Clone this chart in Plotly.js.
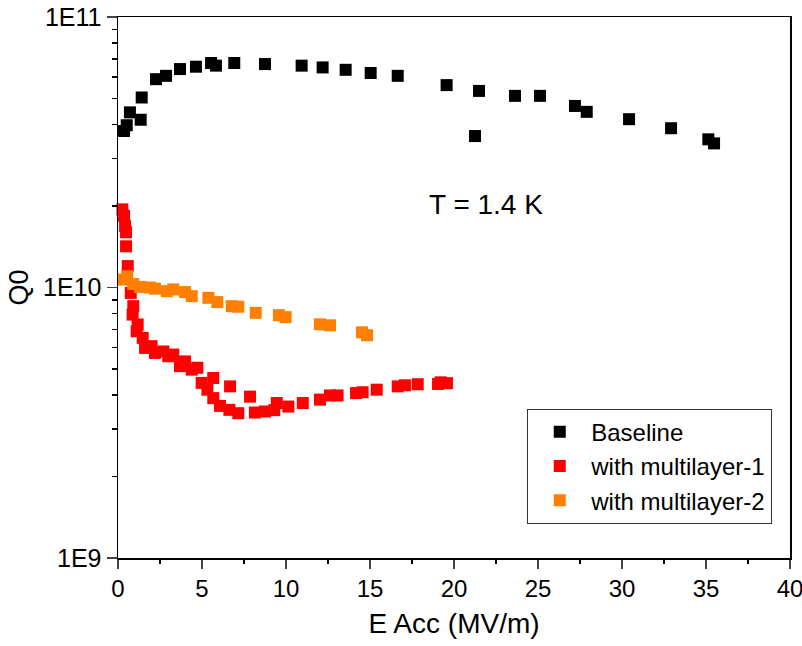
<!DOCTYPE html>
<html>
<head>
<meta charset="utf-8">
<script src="https://cdn.plot.ly/plotly-3.0.1.min.js"></script>
<style>html,body{margin:0;padding:0;background:#fff;}#chart{width:802px;height:646px;}</style>
</head>
<body>
<div id="chart"></div>
<script>
// Baseline
const baseX = [0.36,0.52,0.71,1.35,1.41,2.26,2.86,3.69,4.64,5.54,5.83,6.92,8.75,10.93,12.18,13.55,15.04,16.65,19.56,21.25,21.49,23.63,25.12,27.2,27.9,30.42,32.92,35.14,35.48];
const baseY = [3.79e10,3.98e10,4.44e10,4.17e10,5.04e10,5.89e10,6.06e10,6.42e10,6.55e10,6.76e10,6.61e10,6.76e10,6.70e10,6.61e10,6.51e10,6.38e10,6.21e10,6.06e10,5.60e10,3.63e10,5.33e10,5.11e10,5.11e10,4.69e10,4.46e10,4.19e10,3.88e10,3.53e10,3.41e10];
// with multilayer-1
const ml1X = [0.26,0.36,0.42,0.48,0.48,0.58,0.76,0.91,0.87,1.17,1.11,1.47,1.61,2.0,2.2,2.7,2.99,3.29,3.69,3.99,4.39,4.72,4.98,5.32,5.67,5.67,6.07,6.67,6.63,7.16,7.86,8.15,8.75,9.3,9.45,10.14,11.0,12.02,12.62,13.07,14.17,14.56,15.4,16.65,17.08,17.84,19.05,19.2,19.58];
const ml1Y = [1.945e10,1.84e10,1.69e10,1.60e10,1.42e10,1.20e10,9.55e9,8.53e9,7.94e9,7.30e9,6.89e9,6.51e9,5.98e9,6.07e9,5.73e9,5.80e9,5.57e9,5.65e9,5.12e9,5.33e9,4.97e9,5.05e9,4.44e9,4.19e9,4.63e9,3.90e9,3.65e9,4.31e9,3.53e9,3.43e9,3.95e9,3.45e9,3.48e9,3.52e9,3.74e9,3.63e9,3.74e9,3.85e9,3.99e9,3.99e9,4.07e9,4.10e9,4.19e9,4.31e9,4.35e9,4.39e9,4.40e9,4.46e9,4.43e9];
// with multilayer-2
const ml2X = [0.32,0.55,0.91,1.31,1.9,2.2,2.9,3.29,3.99,4.39,5.38,5.91,6.77,7.16,8.2,9.58,9.98,12.02,12.62,14.52,14.82];
const ml2Y = [1.07e10,1.10e10,1.03e10,1.005e10,1.0e10,9.9e9,9.69e9,9.84e9,9.62e9,9.29e9,9.16e9,8.83e9,8.53e9,8.49e9,8.06e9,7.90e9,7.77e9,7.31e9,7.25e9,6.83e9,6.66e9];

const seriesNames = ['Baseline','with multilayer-1','with multilayer-2'];
const yTickVals = [1e9,1e10,1e11];
const yTickText = ['1E9','1E10','1E11'];
const xTickVals = [0,5,10,15,20,25,30,35,40];
const xTickText = ['0','5','10','15','20','25','30','35','40'];

const font = 'Arial';
function mk(x,y,name,color){
  return {x:x,y:y,name:name,type:'scatter',mode:'markers',
    marker:{symbol:'square',size:12,color:color,line:{width:0}},cliponaxis:false};
}
const minorY = [];
[1e9,1e10].forEach(d=>{for(let k=2;k<=9;k++) minorY.push(k*d);});

const data = [
  mk(baseX,baseY,seriesNames[0],'#000000'),
  mk(ml1X,ml1Y,seriesNames[1],'#ff0000'),
  mk(ml2X,ml2Y,seriesNames[2],'#ff8000')
];
const layout = {
  width:802,height:646,
  margin:{l:118,r:12,t:17,b:88},
  paper_bgcolor:'#fff',plot_bgcolor:'#fff',
  font:{family:font,color:'#000',size:24},
  showlegend:true,
  legend:{x:0.609,y:0.276,xanchor:'left',yanchor:'top',bordercolor:'#333',borderwidth:1,
    font:{family:font,size:24,color:'#000'},bgcolor:'#fff',itemwidth:53,tracegroupgap:0},
  xaxis:{range:[0,40],tickmode:'array',tickvals:xTickVals,ticktext:xTickText,ticks:'outside',ticklen:9,tickwidth:1.5,
    ticklabeloverflow:'allow',
    showline:true,linecolor:'#000',linewidth:1.5,mirror:true,showgrid:false,zeroline:false,
    tickfont:{family:font,size:24,color:'#000'},
    minor:{dtick:2.5,tick0:0,ticks:'outside',ticklen:4,tickwidth:1.5,tickcolor:'#000',showgrid:false},
    title:{text:'E Acc (MV/m)',font:{family:font,size:28,color:'#000'},standoff:12}},
  yaxis:{type:'log',range:[9,11],tickmode:'array',tickvals:yTickVals,ticktext:yTickText,ticks:'outside',ticklen:10,tickwidth:1.5,
    ticklabeloverflow:'allow',
    showline:true,linecolor:'#000',linewidth:1.5,mirror:true,showgrid:false,zeroline:false,
    tickfont:{family:font,size:25,color:'#000'},
    minor:{tickmode:'array',tickvals:minorY,ticks:'outside',ticklen:5,tickwidth:1.5,tickcolor:'#000',showgrid:false},
    title:{text:'Q0',font:{family:font,size:27,color:'#000'},standoff:6}},
  annotations:[{x:21.9,y:Math.log10(2.02e10),xref:'x',yref:'y',text:'T = 1.4 K',showarrow:false,
    font:{family:font,size:28,color:'#000'}}]
};
Plotly.newPlot('chart',data,layout,{displayModeBar:false,staticPlot:true});
</script>
</body>
</html>
